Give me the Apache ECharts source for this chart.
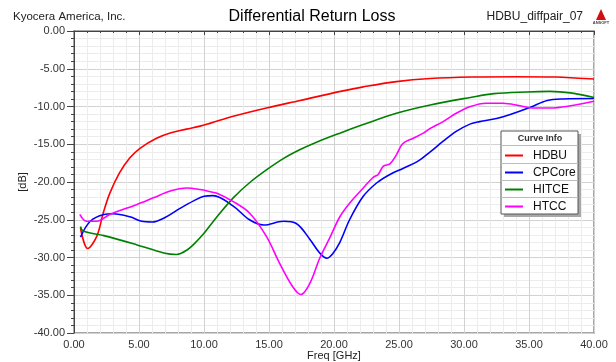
<!DOCTYPE html>
<html>
<head>
<meta charset="utf-8">
<script src="https://cdn.jsdelivr.net/npm/echarts@6/dist/echarts.min.js"></script>
<style>
  html, body { margin: 0; padding: 0; background: #fff; overflow: hidden; }
  #chart { width: 616px; height: 362px; }
</style>
</head>
<body>
<div id="chart"></div>
<script>
// Differential return loss (dB) vs frequency (GHz) for four package technologies
const seriesNames = ['HDBU', 'CPCore', 'HITCE', 'HTCC'];
const seriesColors = ['#ff0000', '#0000ff', '#008000', '#ff00ff'];

const hdbuFreq = [0.5, 1.05, 1.75, 2.25, 2.75, 3.5, 4.3, 5.1, 6.35, 7.4, 8.65, 9.7, 10.5, 12.25, 14.8, 17.4, 20.5, 22.25, 24.8, 27.4, 30.6, 34.0, 37.1, 38.8, 40.0];
const hdbuDb = [-26.1, -28.8, -27.2, -24.1, -21.5, -18.8, -16.8, -15.5, -14.2, -13.5, -13.0, -12.6, -12.2, -11.3, -10.2, -9.2, -8.0, -7.4, -6.7, -6.3, -6.1, -6.05, -6.1, -6.25, -6.35];

const cpcoreFreq = [0.5, 1.25, 2.3, 3.0, 4.3, 5.2, 6.0, 7.0, 8.15, 9.2, 10.0, 10.7, 12.25, 13.5, 14.6, 16.1, 17.1, 18.15, 18.9, 19.45, 19.9, 20.45, 21.2, 22.25, 23.3, 24.3, 25.3, 26.4, 27.4, 28.4, 29.4, 30.5, 31.2, 32.5, 33.5, 35.1, 36.4, 37.6, 40.0];
const cpcoreDb = [-27.3, -25.2, -24.3, -24.2, -24.6, -25.2, -25.3, -24.7, -23.5, -22.5, -21.9, -21.8, -23.2, -25.0, -25.7, -25.2, -25.5, -27.6, -29.4, -30.1, -29.5, -28.0, -25.0, -21.9, -20.1, -19.0, -18.2, -17.3, -16.0, -14.6, -13.3, -12.3, -12.0, -11.6, -11.1, -10.1, -9.2, -9.0, -8.95];

const hitceFreq = [0.5, 0.7, 2.3, 4.8, 6.9, 7.9, 8.7, 9.3, 9.95, 10.5, 11.0, 12.25, 13.5, 14.8, 16.1, 17.4, 18.7, 20.5, 22.25, 24.8, 27.4, 30.5, 32.3, 34.8, 36.6, 38.2, 40.0];
const hitceDb = [-25.9, -26.5, -27.1, -28.3, -29.4, -29.6, -29.0, -28.1, -26.9, -25.7, -24.6, -22.1, -20.1, -18.4, -16.9, -15.7, -14.7, -13.5, -12.4, -10.9, -9.8, -8.8, -8.3, -8.07, -8.0, -8.2, -8.8];

const htccFreq = [0.45, 0.95, 1.75, 2.75, 4.8, 6.1, 7.4, 8.65, 9.7, 10.5, 11.0, 12.25, 13.5, 14.8, 15.8, 16.8, 17.45, 18.15, 18.9, 19.7, 20.45, 21.2, 22.25, 23.0, 23.4, 23.8, 24.3, 24.8, 25.3, 26.1, 26.9, 27.4, 28.4, 29.4, 30.5, 31.7, 33.0, 34.3, 35.3, 36.6, 38.2, 40.0];
const htccDb = [-24.3, -25.2, -25.2, -24.3, -23.0, -22.1, -21.2, -20.8, -21.0, -21.3, -21.5, -22.6, -24.1, -27.2, -30.7, -33.8, -34.9, -33.4, -30.1, -27.3, -24.6, -22.8, -20.8, -19.4, -19.0, -17.9, -17.6, -16.4, -14.9, -14.2, -13.5, -12.9, -12.0, -10.9, -10.0, -9.56, -9.56, -9.9, -10.2, -10.2, -9.9, -9.3];

const xTicks = { min: 0, max: 40, step: 5 };
const yTicks = { min: -40, max: 0, step: 5 };

const freqs = [hdbuFreq, cpcoreFreq, hitceFreq, htccFreq];
const values = [hdbuDb, cpcoreDb, hitceDb, htccDb];

const FONT = 'Liberation Sans, Arial, sans-serif';

const series = seriesNames.map((name, i) => ({
  name: name,
  type: 'line',
  data: freqs[i].map((f, k) => [f, values[i][k]]),
  showSymbol: false,
  symbol: 'none',
  smooth: 0.35,
  lineStyle: { color: seriesColors[i], width: 1.6 },
  itemStyle: { color: seriesColors[i] },
  z: 2
}));

const chart = echarts.init(document.getElementById('chart'), null, { renderer: 'canvas' });

chart.setOption({
  animation: false,
  backgroundColor: '#ffffff',
  title: [
    { text: 'Differential Return Loss', left: 312, top: 9, textAlign: 'center', padding: 0,
      textStyle: { fontFamily: FONT, fontSize: 16, fontWeight: 'normal', color: '#000' } },
    { text: 'Kyocera America, Inc.', left: 13, top: 11, padding: 0,
      textStyle: { fontFamily: FONT, fontSize: 11.5, fontWeight: 'normal', color: '#222' } },
    { text: 'HDBU_diffpair_07', right: 33, top: 11, padding: 0,
      textStyle: { fontFamily: FONT, fontSize: 12, fontWeight: 'normal', color: '#222' } }
  ],
  grid: {
    left: 74, right: 22, top: 31, bottom: 29,
    outerBoundsMode: 'none',
    show: true, borderColor: '#8a8a8a', borderWidth: 1.5, backgroundColor: 'transparent'
  },
  legend: {
    data: seriesNames,
    orient: 'vertical',
    left: 505, top: 147, padding: 0,
    itemWidth: 18, itemHeight: 2, itemGap: 0,
    icon: 'rect',
    z: 6,
    textStyle: { fontFamily: FONT, fontSize: 12, color: '#111', lineHeight: 17, padding: [0, 0, 0, 5] }
  },
  xAxis: {
    type: 'value',
    min: xTicks.min, max: xTicks.max, interval: xTicks.step,
    name: 'Freq [GHz]', nameLocation: 'middle', nameGap: 17, nameMoveOverlap: false,
    nameTextStyle: { fontFamily: FONT, fontSize: 11, color: '#222' },
    axisLine: { lineStyle: { color: '#444', width: 1 } },
    axisTick: { length: 4, lineStyle: { color: '#444' } },
    minorTick: { show: true, splitNumber: 5, length: 2, lineStyle: { color: '#444' } },
    axisLabel: { fontFamily: FONT, fontSize: 11, color: '#333', margin: 6,
      formatter: v => v.toFixed(2) },
    splitLine: { show: true, lineStyle: { color: '#d2d2d2', width: 1 } },
    minorSplitLine: { show: true, lineStyle: { color: '#ececec', width: 1 } }
  },
  yAxis: {
    type: 'value',
    min: yTicks.min, max: yTicks.max, interval: yTicks.step,
    name: '[dB]', nameLocation: 'middle', nameGap: 46, nameRotate: 90, nameMoveOverlap: false,
    nameTextStyle: { fontFamily: FONT, fontSize: 11, color: '#222' },
    axisLine: { show: true, lineStyle: { color: '#444', width: 1 } },
    axisTick: { show: true, length: 7, lineStyle: { color: '#444' } },
    minorTick: { show: true, splitNumber: 5, length: 3, lineStyle: { color: '#444' } },
    axisLabel: { fontFamily: FONT, fontSize: 11, color: '#333', margin: 9,
      formatter: v => v.toFixed(2) },
    splitLine: { show: true, lineStyle: { color: '#d2d2d2', width: 1 } },
    minorSplitLine: { show: true, lineStyle: { color: '#ececec', width: 1 } }
  },
  graphic: [
    // legend frame with drop shadow
    { type: 'rect', z: 3, shape: { x: 504, y: 134, width: 77, height: 83 }, style: { fill: '#a8a8a8' } },
    { type: 'rect', z: 4, shape: { x: 501, y: 131, width: 77, height: 83 },
      style: { fill: '#ffffff', stroke: '#555', lineWidth: 1 } },
    { type: 'text', z: 5, x: 540, y: 139,
      style: { text: 'Curve Info', fill: '#333', font: 'bold 9px ' + FONT, textAlign: 'center', textVerticalAlign: 'middle' } },
    { type: 'line', z: 5, shape: { x1: 501, y1: 145.5, x2: 578, y2: 145.5 }, style: { stroke: '#bbb', lineWidth: 1 } },
    { type: 'line', z: 5, shape: { x1: 501, y1: 163.5, x2: 578, y2: 163.5 }, style: { stroke: '#bbb', lineWidth: 1 } },
    { type: 'line', z: 5, shape: { x1: 501, y1: 180.5, x2: 578, y2: 180.5 }, style: { stroke: '#bbb', lineWidth: 1 } },
    { type: 'line', z: 5, shape: { x1: 501, y1: 197.5, x2: 578, y2: 197.5 }, style: { stroke: '#bbb', lineWidth: 1 } },
    // small vendor mark in the top-right corner
    { type: 'polygon', z: 5, shape: { points: [[601, 9], [596, 20], [606, 20]] }, style: { fill: '#d01010' } },
    { type: 'text', z: 5, x: 601, y: 23,
      style: { text: 'ANSOFT', fill: '#444', font: 'bold 4px ' + FONT, textAlign: 'center', textVerticalAlign: 'middle' } }
  ],
  series: series
});
</script>
</body>
</html>
